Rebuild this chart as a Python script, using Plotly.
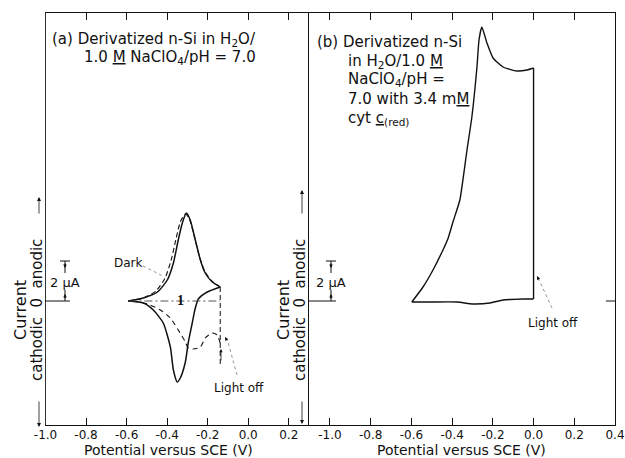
import plotly.graph_objects as go

W, H = 625, 458

# ---------------- data (V vs SCE, current in uA) ----------------
# panel (a) under illumination, solid: anodic sweep then cathodic sweep
a_an_v = [-0.591, -0.517, -0.448, -0.399, -0.369, -0.345, -0.325, -0.305, -0.286, -0.261, -0.236, -0.212, -0.177, -0.138]
a_an_i = [0.0, 0.15, 0.45, 1.05, 1.9, 3.05, 3.9, 4.4, 4.05, 3.05, 2.05, 1.4, 0.95, 0.7]
a_cat_v = [-0.138, -0.202, -0.246, -0.262, -0.276, -0.296, -0.310, -0.335, -0.350, -0.369, -0.384, -0.419, -0.468, -0.517, -0.591]
a_cat_i = [0.7, 0.45, 0.1, -0.4, -1.1, -2.1, -3.05, -3.85, -4.05, -3.45, -2.3, -1.1, -0.45, -0.1, 0.0]
# panel (a) dark, dashed anodic
a_dark_v = [-0.591, -0.517, -0.455, -0.41, -0.38, -0.355, -0.335, -0.31, -0.29, -0.265, -0.24, -0.215, -0.18, -0.145]
a_dark_i = [0.0, 0.15, 0.5, 1.15, 2.05, 3.15, 3.95, 4.35, 4.1, 3.2, 2.2, 1.5, 1.0, 0.75]
# panel (a) light off, dashed
a_off_v = [-0.138, -0.153, -0.177, -0.212, -0.236, -0.271, -0.296, -0.310, -0.345, -0.384, -0.433, -0.483, -0.532, -0.591]
a_off_i = [-2.1, -1.7, -1.6, -1.85, -2.3, -2.4, -2.35, -2.05, -1.45, -0.85, -0.45, -0.2, -0.05, 0.0]
a_step_v = [-0.138, -0.138]
a_step_i = [0.7, -3.2]
a_base_v = [-0.591, -0.138]
a_base_i = [0.0, 0.0]

# panel (b) with cyt c(red): anodic sweep, light off step, cathodic sweep
b_an_v = [-0.598, -0.543, -0.494, -0.445, -0.421, -0.396, -0.362, -0.327, -0.303, -0.278, -0.268, -0.254,
          -0.229, -0.199, -0.150, -0.082, -0.032, 0.0]
b_an_i = [-0.05, 0.7, 1.55, 2.55, 3.1, 3.95, 5.05, 7.55, 9.2, 11.7, 13.05, 13.7,
          12.9, 12.15, 11.7, 11.5, 11.55, 11.65]
b_step_v = [0.0, 0.0]
b_step_i = [11.65, 0.1]
b_cat_v = [0.0, -0.052, -0.150, -0.214, -0.298, -0.376, -0.509, -0.598]
b_cat_i = [0.1, 0.1, 0.05, -0.1, -0.15, -0.05, -0.05, -0.05]

xa_ticks = [-1.0, -0.8, -0.6, -0.4, -0.2, 0.0, 0.2]
xa_text = ["-1.0", "-0.8", "-0.6", "-0.4", "-0.2", "0.0", "0.2"]
xb_ticks = [-1.0, -0.8, -0.6, -0.4, -0.2, 0.0, 0.2, 0.4]
xb_text = ["-1.0", "-0.8", "-0.6", "-0.4", "-0.2", "0.0", "0.2", "0.4"]

# ---------------- geometry ----------------
def px(x):
    return x / W

def py(y):
    return 1 - y / H

FONT = "DejaVu Sans"
BLACK = "#111"

fig = go.Figure()
sol = dict(color=BLACK, width=1.5, shape="spline", smoothing=0.6)
fig.add_trace(go.Scatter(x=a_an_v, y=a_an_i, mode="lines", line=sol, xaxis="x", yaxis="y"))
fig.add_trace(go.Scatter(x=a_cat_v, y=a_cat_i, mode="lines", line=sol, xaxis="x", yaxis="y"))
fig.add_trace(go.Scatter(x=a_dark_v, y=a_dark_i, mode="lines", line=dict(color=BLACK, width=1.1, dash="5px,3px", shape="spline", smoothing=0.6), xaxis="x", yaxis="y"))
fig.add_trace(go.Scatter(x=a_off_v, y=a_off_i, mode="lines", line=dict(color=BLACK, width=1.1, dash="5px,4px", shape="spline", smoothing=0.6), xaxis="x", yaxis="y"))
fig.add_trace(go.Scatter(x=a_step_v, y=a_step_i, mode="lines", line=dict(color=BLACK, width=1.0, dash="5px,3px"), xaxis="x", yaxis="y"))
fig.add_trace(go.Scatter(x=a_base_v, y=a_base_i, mode="lines", line=dict(color="#444", width=0.9, dash="8px,3px,2px,3px"), xaxis="x", yaxis="y"))
bl = dict(color=BLACK, width=1.4, shape="spline", smoothing=0.5)
fig.add_trace(go.Scatter(x=b_an_v, y=b_an_i, mode="lines", line=bl, xaxis="x2", yaxis="y2"))
fig.add_trace(go.Scatter(x=b_step_v, y=b_step_i, mode="lines", line=dict(color=BLACK, width=1.4), xaxis="x2", yaxis="y2"))
fig.add_trace(go.Scatter(x=b_cat_v, y=b_cat_i, mode="lines", line=bl, xaxis="x2", yaxis="y2"))

ydom = [py(425), py(13)]
yrange = [(301 - 425) / 20, (301 - 13) / 20]

axis_common = dict(showgrid=False, zeroline=False, showline=True, linecolor=BLACK, linewidth=1.4,
                   ticks="inside", ticklen=7, tickwidth=1, tickcolor=BLACK, automargin=False,
                   ticklabelstandoff=-2,
                   tickfont=dict(family=FONT, size=12, color=BLACK))
yaxis_common = dict(domain=ydom, range=yrange, showgrid=False, zeroline=False, showline=True,
                    showticklabels=False, ticks="", automargin=False)
fig.update_layout(
    width=W, height=H, margin=dict(l=0, r=0, t=0, b=0, pad=0, autoexpand=False),
    paper_bgcolor="white", plot_bgcolor="white", showlegend=False,
    xaxis=dict(domain=[px(45.5), px(309)], range=[-1.0, 0.30], anchor="y", mirror="ticks",
               tickvals=xa_ticks, ticktext=xa_text, **axis_common),
    yaxis=dict(anchor="x", linecolor="#333", linewidth=1.1, **yaxis_common),
    xaxis2=dict(domain=[px(309), px(615)], range=[-1.103, 0.40], anchor="y2", mirror="ticks",
                tickvals=xb_ticks, ticktext=xb_text, **axis_common),
    yaxis2=dict(anchor="x2", mirror=True, linecolor=BLACK, linewidth=1.2, **yaxis_common),
)

ann = []
shapes = []
def text(x, y, s, size=14, xanchor="center", angle=0, family=FONT, yanchor="middle"):
    ann.append(dict(x=px(x), y=py(y), xref="paper", yref="paper", text=s, showarrow=False,
                    xanchor=xanchor, yanchor=yanchor, textangle=angle,
                    font=dict(family=family, size=size, color=BLACK)))

def arrow(x0, y0, x1, y1, width=1.0, color=BLACK, size=1.0):
    ann.append(dict(x=px(x1), y=py(y1), ax=x0 - x1, ay=y0 - y1, xref="paper", yref="paper",
                    axref="pixel", ayref="pixel", text="", showarrow=True, arrowhead=2,
                    arrowsize=size, arrowwidth=width, arrowcolor=color, standoff=0, startstandoff=0))

def seg(x0, y0, x1, y1, width=1.0, color=BLACK, dash="solid"):
    shapes.append(dict(type="line", xref="paper", yref="paper", x0=px(x0), y0=py(y0), x1=px(x1), y1=py(y1),
                       line=dict(color=color, width=width, dash=dash)))

# titles
text(50, 40, "(a) Derivatized n-Si in H<sub>2</sub>O/", 15, "left")
text(82, 58, "1.0 <u>M</u> NaClO<sub>4</sub>/pH = 7.0", 15, "left")
text(315, 42, "(b) Derivatized n-Si", 15, "left")
text(346, 61, "in H<sub>2</sub>O/1.0 <u>M</u>", 15, "left")
text(346, 80, "NaClO<sub>4</sub>/pH =", 15, "left")
text(346, 99, "7.0 with 3.4 m<u>M</u>", 15, "left")
text(346, 118, "cyt <u>c</u><sub>(red)</sub>", 15, "left")

# axis titles
text(168, 450, "Potential versus SCE (V)", 14)
text(461, 450, "Potential versus SCE (V)", 14)
for xc, xt, xa, yu, yd in [(37, 20, 39, 197, 427), (300, 283, 302, 190, 424)]:
    text(xt, 310, "Current", 16, angle=-90)
    text(xc, 310, "cathodic  0  anodic", 15, angle=-90)
    arrow(xa, 215, xa, yu, width=0.8)
    arrow(xa, 400, xa, yd, width=0.8)

# scale bars 2 uA
for xb, x0 in [(65, 45), (331, 309)]:
    text(xb, 282, "2 μA", 13)
    seg(xb, 261, xb, 273)
    seg(xb, 290, xb, 301)
    arrow(xb, 262, xb, 268, width=1, size=0.7)
    arrow(xb, 300, xb, 294, width=1, size=0.7)
    seg(xb - 5, 261, xb + 5, 261)
    seg(x0, 301, xb + 5, 301)
seg(615, 301, 606, 301)

# labels in panel (a)
text(128, 263, "Dark", 12)
seg(143, 266, 163, 276, 0.7, "#666", "dot")
text(180, 300, "<b>1</b>", 14, family="Liberation Serif")
text(239, 388, "Light off", 12)
seg(237, 375, 228, 342, 0.8, "#777", "dot")
arrow(228, 342, 225, 337, width=0.8, size=0.9)
arrow(221, 362, 221, 349, width=0.8, size=0.8)
# labels in panel (b)
text(553, 323, "Light off", 12)
seg(552, 308, 540, 282, 0.8, "#777", "dot")
arrow(540, 282, 537, 276, width=0.8, size=0.9)

fig.update_layout(annotations=ann, shapes=shapes)
fig.write_html("out.html")
